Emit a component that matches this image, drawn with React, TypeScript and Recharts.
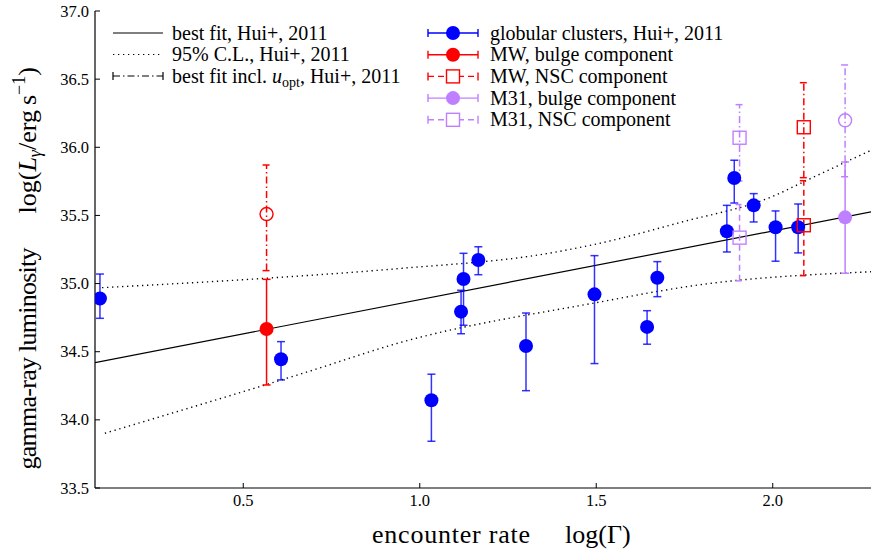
import React from 'react';
import { ComposedChart, Scatter, Line, XAxis, YAxis, ErrorBar, Label } from 'recharts';

// ---------- data ----------
const xTicks = [0.5, 1.0, 1.5, 2.0];
const yTicks = [33.5, 34.0, 34.5, 35.0, 35.5, 36.0, 36.5, 37.0];

// globular clusters (Hui+ 2011)
const gcX = [0.094, 0.607, 1.033, 1.117, 1.124, 1.166, 1.301, 1.495, 1.644, 1.673, 1.870, 1.891, 1.946, 2.008, 2.072];
const gcY = [34.89, 34.445, 34.144, 34.794, 35.034, 35.173, 34.542, 34.921, 34.682, 35.043, 35.384, 35.775, 35.574, 35.413, 35.413];
const gcLo = [0.145, 0.152, 0.301, 0.162, 0.34, 0.108, 0.328, 0.508, 0.127, 0.139, 0.152, 0.184, 0.122, 0.249, 0.188];
const gcHi = [0.18, 0.129, 0.191, 0.157, 0.188, 0.097, 0.242, 0.284, 0.119, 0.118, 0.19, 0.13, 0.086, 0.12, 0.171];

const mwBulgeX = [0.566];
const mwBulgeY = [34.667];
const mwBulgeLo = [0.411];
const mwBulgeHi = [0.364];

const mwBulgeOptX = [0.566];
const mwBulgeOptY = [35.51];
const mwBulgeOptLo = [0.415];
const mwBulgeOptHi = [0.36];

const mwNscX = [2.088];
const mwNscY = [35.428];
const mwNscLo = [0.37];
const mwNscHi = [0.327];

const mwNscOptX = [2.088];
const mwNscOptY = [36.147];
const mwNscOptLo = [0.37];
const mwNscOptHi = [0.327];

const m31BulgeX = [2.205];
const m31BulgeY = [35.486];
const m31BulgeLo = [0.41];
const m31BulgeHi = [0.406];

const m31BulgeOptX = [2.205];
const m31BulgeOptY = [36.198];
const m31BulgeOptLo = [0.414];
const m31BulgeOptHi = [0.406];

const m31NscX = [1.906];
const m31NscY = [35.337];
const m31NscLo = [0.317];
const m31NscHi = [0.243];

const m31NscOptX = [1.906];
const m31NscOptY = [36.07];
const m31NscOptLo = [0.317];
const m31NscOptHi = [0.243];

// best fit and 95% C.L. (Hui+ 2011)
const fitX = [0.08, 2.42];
const fitY = [34.42, 35.597];
const ciUpX = [0.1, 0.57, 0.94, 1.36, 1.5, 1.74, 2.0, 2.09, 2.28];
const ciUpY = [34.97, 35.04, 35.11, 35.22, 35.29, 35.45, 35.64, 35.75, 35.98];
const ciLoX = [0.108, 0.684, 0.943, 1.5, 1.79, 2.28];
const ciLoY = [33.902, 34.354, 34.566, 34.86, 34.99, 35.087];

// ---------- helpers ----------
const BLUE = '#0000ff';
const RED = '#ff0000';
const PURPLE = '#bf80ff';
const FONT = "'Liberation Serif', 'Times New Roman', serif";
const DASH = '6 4';
const DASHDOT = '7 3 1.5 3';
const DOT = '1.3 3.7';

const pts = (xs: number[], ys: number[]) => xs.map((x, i) => ({ x, y: ys[i] }));
const errPts = (xs: number[], ys: number[], lo: number[], hi: number[]) =>
  xs.map((x, i) => ({ x, y: ys[i], err: [lo[i], hi[i]] }));

const filledCircle = (color: string) => (p: any) => (
  <circle cx={p.cx} cy={p.cy} r={7} fill={color} />
);
const openCircle = (color: string) => (p: any) => (
  <circle cx={p.cx} cy={p.cy} r={6.5} fill="none" stroke={color} strokeWidth={1.4} />
);
const openSquare = (color: string) => (p: any) => (
  <rect x={p.cx - 6.5} y={p.cy - 6.5} width={13} height={13} fill="none" stroke={color} strokeWidth={1.4} />
);

const YTick = (p: any) => {
  const { x, y, payload } = p;
  return (
    <g>
      <line x1={x} x2={x + 5} y1={y} y2={y} stroke="#000" strokeWidth={1} />
      <text x={x - 6} y={y + 5.5} textAnchor="end" fontSize={16.5} fontFamily={FONT} fill="#000">
        {Number(payload.value).toFixed(1)}
      </text>
    </g>
  );
};
const XTick = (p: any) => {
  const { x, y, payload } = p;
  return (
    <g>
      <line x1={x} x2={x} y1={y} y2={y - 5} stroke="#000" strokeWidth={1} />
      <text x={x} y={y + 18} textAnchor="middle" fontSize={16.5} fontFamily={FONT} fill="#000">
        {Number(payload.value).toFixed(1)}
      </text>
    </g>
  );
};
const TopTick = (p: any) => {
  const { x, y } = p;
  return <line x1={x} x2={x} y1={y} y2={y + 5} stroke="#000" strokeWidth={1} />;
};

const XLabel = (p: any) => {
  const vb = p.viewBox || { x: 0, y: 0, width: 0, height: 0 };
  const cx = vb.x + vb.width / 2;
  const start = cx - 136;
  return (
    <g fontSize={26} fontFamily={FONT} fill="#000">
      <text x={start} y={543} textLength={158} lengthAdjust="spacing">encounter rate</text>
      <text x={start + 193} y={543}>log(Γ)</text>
    </g>
  );
};
const YLabel = (p: any) => {
  const vb = p.viewBox || { x: 0, y: 0, width: 0, height: 0 };
  const cy = vb.y + vb.height / 2;
  const bx = 36;
  const s1 = cy + 220; // start (bottom) of "gamma-ray luminosity"
  const s2 = cy - 36;  // start of "log(...)"
  return (
    <g fontSize={26} fontFamily={FONT} fill="#000">
      <text transform={`rotate(-90, ${bx}, ${s1})`} x={bx} y={s1} textLength={222} lengthAdjust="spacing">
        gamma-ray luminosity
      </text>
      <text transform={`rotate(-90, ${bx}, ${s2})`} x={bx} y={s2}>
        <tspan>log(</tspan>
        <tspan fontStyle="italic">L</tspan>
        <tspan fontSize={18} fontStyle="italic" dy={5}>γ</tspan>
        <tspan dy={-5}>/erg</tspan>
        <tspan dx={5}>s</tspan>
        <tspan fontSize={18} dy={-11}>−1</tspan>
        <tspan dy={11}>)</tspan>
      </text>
    </g>
  );
};

type EB = { data: any[]; color: string; dash?: string; shape: any; opacity?: number };

const series: EB[] = [
  { data: errPts(gcX, gcY, gcLo, gcHi), color: BLUE, shape: filledCircle(BLUE), opacity: 0.8 },
  { data: errPts(mwBulgeX, mwBulgeY, mwBulgeLo, mwBulgeHi), color: RED, shape: filledCircle(RED) },
  { data: errPts(mwBulgeOptX, mwBulgeOptY, mwBulgeOptLo, mwBulgeOptHi), color: RED, dash: DASHDOT, shape: openCircle(RED) },
  { data: errPts(m31NscX, m31NscY, m31NscLo, m31NscHi), color: PURPLE, dash: DASH, shape: openSquare(PURPLE) },
  { data: errPts(m31NscOptX, m31NscOptY, m31NscOptLo, m31NscOptHi), color: PURPLE, dash: DASHDOT, shape: openSquare(PURPLE) },
  { data: errPts(mwNscX, mwNscY, mwNscLo, mwNscHi), color: RED, dash: DASH, shape: openSquare(RED) },
  { data: errPts(mwNscOptX, mwNscOptY, mwNscOptLo, mwNscOptHi), color: RED, dash: DASHDOT, shape: openSquare(RED) },
  { data: errPts(m31BulgeX, m31BulgeY, m31BulgeLo, m31BulgeHi), color: PURPLE, shape: filledCircle(PURPLE) },
  { data: errPts(m31BulgeOptX, m31BulgeOptY, m31BulgeOptLo, m31BulgeOptHi), color: PURPLE, dash: DASHDOT, shape: openCircle(PURPLE) },
];

// ---------- legend (overlay) ----------
const LegendLine = ({ y, kind }: { y: number; kind: string }) => {
  if (kind === 'solid') return <line x1={113} x2={163} y1={y} y2={y} stroke="#000" strokeWidth={1.2} />;
  if (kind === 'dotted') return <line x1={113} x2={163} y1={y} y2={y} stroke="#000" strokeWidth={1.2} strokeDasharray={DOT} />;
  return (
    <g stroke="#000" strokeWidth={1.2}>
      <line x1={113} x2={163} y1={y} y2={y} strokeDasharray={DASHDOT} />
      <line x1={113} x2={113} y1={y - 4} y2={y + 4} />
      <line x1={163} x2={163} y1={y - 4} y2={y + 4} />
    </g>
  );
};
const LegendMarker = ({ y, color, dash, marker }: { y: number; color: string; dash?: string; marker: string }) => (
  <g>
    <g stroke={color} strokeWidth={1.4}>
      <line x1={428} x2={478} y1={y} y2={y} strokeDasharray={dash} />
      <line x1={428} x2={428} y1={y - 4} y2={y + 4} />
      <line x1={478} x2={478} y1={y - 4} y2={y + 4} />
    </g>
    {marker === 'filled' && <circle cx={453} cy={y} r={7} fill={color} />}
    {marker === 'square' && <rect x={446.5} y={y - 6.5} width={13} height={13} fill="white" stroke={color} strokeWidth={1.4} />}
  </g>
);

const leftLegend = [
  { label: 'best fit, Hui+, 2011', kind: 'solid' },
  { label: '95% C.L., Hui+, 2011', kind: 'dotted' },
  { label: 'opt', kind: 'dashdot' },
];
const rightLegend = [
  { label: 'globular clusters, Hui+, 2011', color: BLUE, marker: 'filled' },
  { label: 'MW, bulge component', color: RED, marker: 'filled' },
  { label: 'MW, NSC component', color: RED, marker: 'square', dash: DASH },
  { label: 'M31, bulge component', color: PURPLE, marker: 'filled' },
  { label: 'M31, NSC component', color: PURPLE, marker: 'square', dash: DASH },
];

const LegendOverlay = () => (
  <svg width={871} height={551} style={{ position: 'absolute', left: 0, top: 0, pointerEvents: 'none' }}>
    <g fontFamily={FONT} fontSize={20} fill="#000">
      {leftLegend.map((e, i) => {
        const y = 33 + i * 21.5;
        return (
          <g key={i}>
            <LegendLine y={y} kind={e.kind} />
            {e.kind === 'dashdot' ? (
              <text x={172} y={y + 6.5}>
                best fit incl. <tspan fontStyle="italic">u</tspan>
                <tspan fontSize={14} dy={4}>opt</tspan>
                <tspan dy={-4}>, Hui+, 2011</tspan>
              </text>
            ) : (
              <text x={172} y={y + 6.5}>{e.label}</text>
            )}
          </g>
        );
      })}
      {rightLegend.map((e, i) => {
        const y = 33 + i * 21.7;
        return (
          <g key={'r' + i}>
            <LegendMarker y={y} color={e.color} dash={e.dash} marker={e.marker} />
            <text x={490} y={y + 6.5}>{e.label}</text>
          </g>
        );
      })}
    </g>
  </svg>
);

export default function App() {
  return (
    <div style={{ position: 'absolute', left: 0, top: 0, width: 871, height: 551, overflow: 'hidden', background: '#fff' }}>
      <ComposedChart width={921} height={551} margin={{ top: 11, right: 0, bottom: 0, left: 0 }}>
        <XAxis
          xAxisId="top"
          orientation="top"
          type="number"
          dataKey="x"
          domain={[0.08, 2.42]}
          allowDataOverflow
          ticks={xTicks}
          height={0}
          tickSize={0}
          tickMargin={0}
          tick={<TopTick />}
          axisLine={{ stroke: '#000', strokeWidth: 1.2 }}
        />
        <XAxis
          type="number"
          dataKey="x"
          domain={[0.08, 2.42]}
          allowDataOverflow
          ticks={xTicks}
          height={63}
          tickSize={0}
          tickMargin={0}
          tick={<XTick />}
          axisLine={{ stroke: '#000', strokeWidth: 1.2 }}
        >
          <Label content={<XLabel />} />
        </XAxis>
        <YAxis
          type="number"
          dataKey="y"
          domain={[33.5, 37.0]}
          allowDataOverflow
          ticks={yTicks}
          width={95}
          tickSize={0}
          tickMargin={0}
          tick={<YTick />}
          axisLine={{ stroke: '#000', strokeWidth: 1.2 }}
        >
          <Label content={<YLabel />} />
        </YAxis>
        <Line data={pts(ciUpX, ciUpY)} dataKey="y" type="monotone" stroke="#000" strokeWidth={1.4} strokeDasharray={DOT} dot={false} activeDot={false} isAnimationActive={false} />
        <Line data={pts(ciLoX, ciLoY)} dataKey="y" type="monotone" stroke="#000" strokeWidth={1.4} strokeDasharray={DOT} dot={false} activeDot={false} isAnimationActive={false} />
        <Line data={pts(fitX, fitY)} dataKey="y" type="linear" stroke="#000" strokeWidth={1.2} dot={false} activeDot={false} isAnimationActive={false} />
        {series.map((s, i) => (
          <Scatter key={i} data={s.data} dataKey="y" shape={s.shape} isAnimationActive={false}>
            <ErrorBar
              dataKey="err"
              direction="y"
              width={4}
              stroke={s.color}
              strokeWidth={1.5}
              strokeOpacity={s.opacity ?? 1}
              strokeDasharray={s.dash}
            />
          </Scatter>
        ))}
      </ComposedChart>
      <LegendOverlay />
    </div>
  );
}
